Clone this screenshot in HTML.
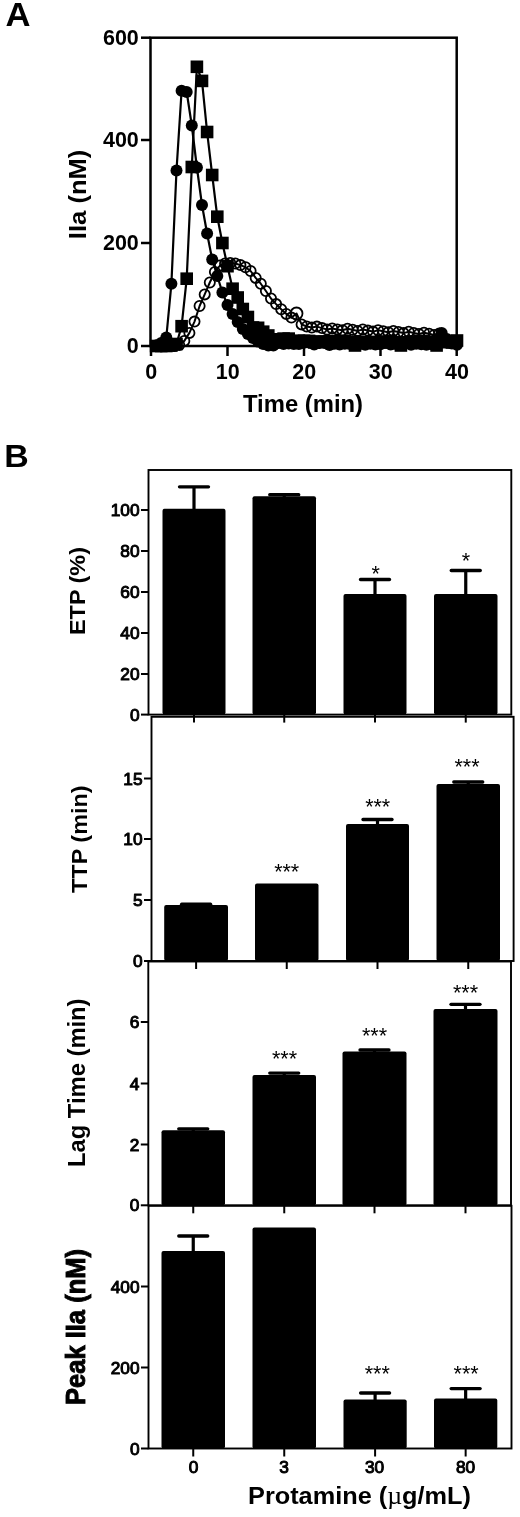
<!DOCTYPE html>
<html lang="en"><head><meta charset="utf-8"><title>Figure</title>
<style>
html,body{margin:0;padding:0;background:#fff;}
svg{display:block;}
text{font-family:"Liberation Sans",Arial,Helvetica,sans-serif;fill:#000;}
</style></head>
<body>
<svg width="520" height="1517" viewBox="0 0 520 1517">
<rect x="0" y="0" width="520" height="1517" fill="#fff"/>
<text x="5.5" y="26" font-size="33" text-anchor="start" font-weight="bold" textLength="25" lengthAdjust="spacingAndGlyphs" >A</text>
<rect x="150.5" y="37.7" width="306.2" height="308.3" fill="none" stroke="#000" stroke-width="2.5"/>
<line x1="141" y1="37.7" x2="150.5" y2="37.7" stroke="#000" stroke-width="2.5" stroke-linecap="butt"/>
<text x="138.8" y="44.900000000000006" font-size="21.5" text-anchor="end" font-weight="bold" >600</text>
<line x1="141" y1="140" x2="150.5" y2="140" stroke="#000" stroke-width="2.5" stroke-linecap="butt"/>
<text x="138.8" y="147.2" font-size="21.5" text-anchor="end" font-weight="bold" >400</text>
<line x1="141" y1="243" x2="150.5" y2="243" stroke="#000" stroke-width="2.5" stroke-linecap="butt"/>
<text x="138.8" y="250.2" font-size="21.5" text-anchor="end" font-weight="bold" >200</text>
<line x1="141" y1="346" x2="150.5" y2="346" stroke="#000" stroke-width="2.5" stroke-linecap="butt"/>
<text x="138.8" y="353.2" font-size="21.5" text-anchor="end" font-weight="bold" >0</text>
<line x1="151" y1="346" x2="151" y2="356" stroke="#000" stroke-width="2.5" stroke-linecap="butt"/>
<text x="151.3" y="379.3" font-size="21.5" text-anchor="middle" font-weight="bold" >0</text>
<line x1="227.5" y1="346" x2="227.5" y2="356" stroke="#000" stroke-width="2.5" stroke-linecap="butt"/>
<text x="227.8" y="379.3" font-size="21.5" text-anchor="middle" font-weight="bold" >10</text>
<line x1="304" y1="346" x2="304" y2="356" stroke="#000" stroke-width="2.5" stroke-linecap="butt"/>
<text x="304.3" y="379.3" font-size="21.5" text-anchor="middle" font-weight="bold" >20</text>
<line x1="380.5" y1="346" x2="380.5" y2="356" stroke="#000" stroke-width="2.5" stroke-linecap="butt"/>
<text x="380.8" y="379.3" font-size="21.5" text-anchor="middle" font-weight="bold" >30</text>
<line x1="456.7" y1="346" x2="456.7" y2="356" stroke="#000" stroke-width="2.5" stroke-linecap="butt"/>
<text x="457.0" y="379.3" font-size="21.5" text-anchor="middle" font-weight="bold" >40</text>
<text x="303" y="412" font-size="23.7" text-anchor="middle" font-weight="bold" textLength="120" lengthAdjust="spacingAndGlyphs" >Time (min)</text>
<text x="86.5" y="194.4" font-size="23.3" text-anchor="middle" font-weight="bold" textLength="89.5" lengthAdjust="spacingAndGlyphs" transform="rotate(-90 86.5 194.4)" >IIa (nM)</text>
<polyline fill="none" stroke="#000" stroke-width="2" stroke-linejoin="round" points="174.1,345.9 179.2,345.0 184.3,340.9 189.4,332.9 194.5,321.6 199.6,306.0 204.7,294.4 209.8,282.5 214.9,272.0 220.0,265.5 225.1,263.5 230.2,263.0 235.3,263.5 240.4,265.1 245.5,267.2 250.6,271.0 255.7,277.9 260.8,283.7 265.9,291.0 271.0,298.5 276.1,304.1 281.2,309.2 286.3,313.9 291.4,317.6 296.5,313.5 301.6,324.4 306.7,326.5 311.8,327.6 316.9,326.6 322.0,328.1 327.1,329.5 332.2,328.4 337.3,329.4 342.4,330.2 347.5,328.8 352.6,329.8 357.7,330.9 362.8,329.5 367.9,330.6 373.0,331.6 378.1,330.2 383.2,331.3 388.3,332.3 393.4,331.0 398.5,332.0 403.6,333.1 408.7,331.8 413.8,332.9 418.9,334.0 424.0,332.7 429.1,333.8 434.2,334.9 439.3,333.6"/>
<circle cx="174.1" cy="345.9" r="5.1" fill="none" stroke="#000" stroke-width="1.8"/>
<circle cx="179.2" cy="345.0" r="5.1" fill="none" stroke="#000" stroke-width="1.8"/>
<circle cx="184.3" cy="340.9" r="5.1" fill="none" stroke="#000" stroke-width="1.8"/>
<circle cx="189.4" cy="332.9" r="5.1" fill="none" stroke="#000" stroke-width="1.8"/>
<circle cx="194.5" cy="321.6" r="5.1" fill="none" stroke="#000" stroke-width="1.8"/>
<circle cx="199.6" cy="306.0" r="5.1" fill="none" stroke="#000" stroke-width="1.8"/>
<circle cx="204.7" cy="294.4" r="5.1" fill="none" stroke="#000" stroke-width="1.8"/>
<circle cx="209.8" cy="282.5" r="5.1" fill="none" stroke="#000" stroke-width="1.8"/>
<circle cx="214.9" cy="272.0" r="5.1" fill="none" stroke="#000" stroke-width="1.8"/>
<circle cx="220.0" cy="265.5" r="5.1" fill="none" stroke="#000" stroke-width="1.8"/>
<circle cx="225.1" cy="263.5" r="5.1" fill="none" stroke="#000" stroke-width="1.8"/>
<circle cx="230.2" cy="263.0" r="5.1" fill="none" stroke="#000" stroke-width="1.8"/>
<circle cx="235.3" cy="263.5" r="5.1" fill="none" stroke="#000" stroke-width="1.8"/>
<circle cx="240.4" cy="265.1" r="5.1" fill="none" stroke="#000" stroke-width="1.8"/>
<circle cx="245.5" cy="267.2" r="5.1" fill="none" stroke="#000" stroke-width="1.8"/>
<circle cx="250.6" cy="271.0" r="5.1" fill="none" stroke="#000" stroke-width="1.8"/>
<circle cx="255.7" cy="277.9" r="5.1" fill="none" stroke="#000" stroke-width="1.8"/>
<circle cx="260.8" cy="283.7" r="5.1" fill="none" stroke="#000" stroke-width="1.8"/>
<circle cx="265.9" cy="291.0" r="5.1" fill="none" stroke="#000" stroke-width="1.8"/>
<circle cx="271.0" cy="298.5" r="5.1" fill="none" stroke="#000" stroke-width="1.8"/>
<circle cx="276.1" cy="304.1" r="5.1" fill="none" stroke="#000" stroke-width="1.8"/>
<circle cx="281.2" cy="309.2" r="5.1" fill="none" stroke="#000" stroke-width="1.8"/>
<circle cx="286.3" cy="313.9" r="5.1" fill="none" stroke="#000" stroke-width="1.8"/>
<circle cx="291.4" cy="317.6" r="5.1" fill="none" stroke="#000" stroke-width="1.8"/>
<circle cx="296.5" cy="313.5" r="6.0" fill="none" stroke="#000" stroke-width="1.8"/>
<circle cx="301.6" cy="324.4" r="5.1" fill="none" stroke="#000" stroke-width="1.8"/>
<circle cx="306.7" cy="326.5" r="5.1" fill="none" stroke="#000" stroke-width="1.8"/>
<circle cx="311.8" cy="327.6" r="5.1" fill="none" stroke="#000" stroke-width="1.8"/>
<circle cx="316.9" cy="326.6" r="5.1" fill="none" stroke="#000" stroke-width="1.8"/>
<circle cx="322.0" cy="328.1" r="5.1" fill="none" stroke="#000" stroke-width="1.8"/>
<circle cx="327.1" cy="329.5" r="5.1" fill="none" stroke="#000" stroke-width="1.8"/>
<circle cx="332.2" cy="328.4" r="5.1" fill="none" stroke="#000" stroke-width="1.8"/>
<circle cx="337.3" cy="329.4" r="5.1" fill="none" stroke="#000" stroke-width="1.8"/>
<circle cx="342.4" cy="330.2" r="5.1" fill="none" stroke="#000" stroke-width="1.8"/>
<circle cx="347.5" cy="328.8" r="5.1" fill="none" stroke="#000" stroke-width="1.8"/>
<circle cx="352.6" cy="329.8" r="5.1" fill="none" stroke="#000" stroke-width="1.8"/>
<circle cx="357.7" cy="330.9" r="5.1" fill="none" stroke="#000" stroke-width="1.8"/>
<circle cx="362.8" cy="329.5" r="5.1" fill="none" stroke="#000" stroke-width="1.8"/>
<circle cx="367.9" cy="330.6" r="5.1" fill="none" stroke="#000" stroke-width="1.8"/>
<circle cx="373.0" cy="331.6" r="5.1" fill="none" stroke="#000" stroke-width="1.8"/>
<circle cx="378.1" cy="330.2" r="5.1" fill="none" stroke="#000" stroke-width="1.8"/>
<circle cx="383.2" cy="331.3" r="5.1" fill="none" stroke="#000" stroke-width="1.8"/>
<circle cx="388.3" cy="332.3" r="5.1" fill="none" stroke="#000" stroke-width="1.8"/>
<circle cx="393.4" cy="331.0" r="5.1" fill="none" stroke="#000" stroke-width="1.8"/>
<circle cx="398.5" cy="332.0" r="5.1" fill="none" stroke="#000" stroke-width="1.8"/>
<circle cx="403.6" cy="333.1" r="5.1" fill="none" stroke="#000" stroke-width="1.8"/>
<circle cx="408.7" cy="331.8" r="5.1" fill="none" stroke="#000" stroke-width="1.8"/>
<circle cx="413.8" cy="332.9" r="5.1" fill="none" stroke="#000" stroke-width="1.8"/>
<circle cx="418.9" cy="334.0" r="5.1" fill="none" stroke="#000" stroke-width="1.8"/>
<circle cx="424.0" cy="332.7" r="5.1" fill="none" stroke="#000" stroke-width="1.8"/>
<circle cx="429.1" cy="333.8" r="5.1" fill="none" stroke="#000" stroke-width="1.8"/>
<circle cx="434.2" cy="334.9" r="5.1" fill="none" stroke="#000" stroke-width="1.8"/>
<circle cx="439.3" cy="333.6" r="5.1" fill="none" stroke="#000" stroke-width="1.8"/>
<polyline fill="none" stroke="#000" stroke-width="2.2" stroke-linejoin="round" points="156.1,345.5 161.2,343.0 166.3,337.5 171.4,283.8 176.5,170.5 181.6,90.8 186.7,92.0 191.8,125.5 196.9,167.5 202.0,205.0 207.1,233.5 212.2,259.5 217.3,276.0 222.4,292.5 227.5,305.0 232.6,314.0 237.7,322.0 242.8,329.0 247.9,334.0 253.0,338.0 258.1,341.5 263.2,344.0 268.3,345.5 273.4,345.5 278.5,343.1 283.6,343.9 288.7,343.4 293.8,344.0 298.9,344.1 304.0,342.7 309.1,342.5 314.2,344.6 319.3,343.1 324.4,343.1 329.5,345.0 334.6,343.7 339.7,344.6 344.8,343.7 349.9,344.1 355.0,342.9 360.1,344.1 365.2,344.7 370.3,343.8 375.4,344.4 380.5,344.2 385.6,342.7 390.7,344.4 395.8,344.0 400.9,343.3 406.0,342.6 411.1,344.7 416.2,343.7 421.3,344.3 426.4,344.7 431.5,344.3 436.6,339.0 441.7,333.0 446.8,339.0 451.9,343.6 457.0,344.8"/>
<circle cx="156.1" cy="345.5" r="6" fill="#000"/>
<circle cx="161.2" cy="343.0" r="6" fill="#000"/>
<circle cx="166.3" cy="337.5" r="6" fill="#000"/>
<circle cx="171.4" cy="283.8" r="6" fill="#000"/>
<circle cx="176.5" cy="170.5" r="6" fill="#000"/>
<circle cx="181.6" cy="90.8" r="6" fill="#000"/>
<circle cx="186.7" cy="92.0" r="6" fill="#000"/>
<circle cx="191.8" cy="125.5" r="6" fill="#000"/>
<circle cx="196.9" cy="167.5" r="6" fill="#000"/>
<circle cx="202.0" cy="205.0" r="6" fill="#000"/>
<circle cx="207.1" cy="233.5" r="6" fill="#000"/>
<circle cx="212.2" cy="259.5" r="6" fill="#000"/>
<circle cx="217.3" cy="276.0" r="6" fill="#000"/>
<circle cx="222.4" cy="292.5" r="6" fill="#000"/>
<circle cx="227.5" cy="305.0" r="6" fill="#000"/>
<circle cx="232.6" cy="314.0" r="6" fill="#000"/>
<circle cx="237.7" cy="322.0" r="6" fill="#000"/>
<circle cx="242.8" cy="329.0" r="6" fill="#000"/>
<circle cx="247.9" cy="334.0" r="6" fill="#000"/>
<circle cx="253.0" cy="338.0" r="6" fill="#000"/>
<circle cx="258.1" cy="341.5" r="6" fill="#000"/>
<circle cx="263.2" cy="344.0" r="6" fill="#000"/>
<circle cx="268.3" cy="345.5" r="6" fill="#000"/>
<circle cx="273.4" cy="345.5" r="6" fill="#000"/>
<circle cx="278.5" cy="343.1" r="6" fill="#000"/>
<circle cx="283.6" cy="343.9" r="6" fill="#000"/>
<circle cx="288.7" cy="343.4" r="6" fill="#000"/>
<circle cx="293.8" cy="344.0" r="6" fill="#000"/>
<circle cx="298.9" cy="344.1" r="6" fill="#000"/>
<circle cx="304.0" cy="342.7" r="6" fill="#000"/>
<circle cx="309.1" cy="342.5" r="6" fill="#000"/>
<circle cx="314.2" cy="344.6" r="6" fill="#000"/>
<circle cx="319.3" cy="343.1" r="6" fill="#000"/>
<circle cx="324.4" cy="343.1" r="6" fill="#000"/>
<circle cx="329.5" cy="345.0" r="6" fill="#000"/>
<circle cx="334.6" cy="343.7" r="6" fill="#000"/>
<circle cx="339.7" cy="344.6" r="6" fill="#000"/>
<circle cx="344.8" cy="343.7" r="6" fill="#000"/>
<circle cx="349.9" cy="344.1" r="6" fill="#000"/>
<circle cx="355.0" cy="342.9" r="6" fill="#000"/>
<circle cx="360.1" cy="344.1" r="6" fill="#000"/>
<circle cx="365.2" cy="344.7" r="6" fill="#000"/>
<circle cx="370.3" cy="343.8" r="6" fill="#000"/>
<circle cx="375.4" cy="344.4" r="6" fill="#000"/>
<circle cx="380.5" cy="344.2" r="6" fill="#000"/>
<circle cx="385.6" cy="342.7" r="6" fill="#000"/>
<circle cx="390.7" cy="344.4" r="6" fill="#000"/>
<circle cx="395.8" cy="344.0" r="6" fill="#000"/>
<circle cx="400.9" cy="343.3" r="6" fill="#000"/>
<circle cx="406.0" cy="342.6" r="6" fill="#000"/>
<circle cx="411.1" cy="344.7" r="6" fill="#000"/>
<circle cx="416.2" cy="343.7" r="6" fill="#000"/>
<circle cx="421.3" cy="344.3" r="6" fill="#000"/>
<circle cx="426.4" cy="344.7" r="6" fill="#000"/>
<circle cx="431.5" cy="344.3" r="6" fill="#000"/>
<circle cx="436.6" cy="339.0" r="6" fill="#000"/>
<circle cx="441.7" cy="333.0" r="6" fill="#000"/>
<circle cx="446.8" cy="339.0" r="6" fill="#000"/>
<circle cx="451.9" cy="343.6" r="6" fill="#000"/>
<circle cx="457.0" cy="344.8" r="6" fill="#000"/>
<polyline fill="none" stroke="#000" stroke-width="2.2" stroke-linejoin="round" points="156.1,346.0 161.2,346.0 166.3,346.0 171.4,345.5 176.5,344.0 181.6,326.2 186.7,278.8 191.8,167.0 196.9,66.8 202.0,80.9 207.1,132.0 212.2,175.0 217.3,216.8 222.4,243.0 227.5,266.2 232.6,288.8 237.7,297.5 242.8,309.0 247.9,317.0 253.0,327.5 258.1,327.8 263.2,331.7 268.3,335.5 273.4,339.3 278.5,339.5 283.6,338.6 288.7,338.6 293.8,342.3 298.9,340.7 304.0,340.8 309.1,340.9 314.2,342.4 319.3,341.4 324.4,341.8 329.5,341.1 334.6,341.5 339.7,341.3 344.8,341.2 349.9,341.7 355.0,345.5 360.1,342.3 365.2,341.9 370.3,342.4 375.4,342.2 380.5,342.5 385.6,341.8 390.7,340.8 395.8,342.2 400.9,345.5 406.0,342.3 411.1,341.6 416.2,341.9 421.3,340.9 426.4,342.2 431.5,341.6 436.6,345.5 441.7,340.6 446.8,342.2 451.9,342.5 457.0,340.5"/>
<rect x="149.8" y="339.7" width="12.6" height="12.6" fill="#000"/>
<rect x="154.9" y="339.7" width="12.6" height="12.6" fill="#000"/>
<rect x="160.0" y="339.7" width="12.6" height="12.6" fill="#000"/>
<rect x="165.1" y="339.2" width="12.6" height="12.6" fill="#000"/>
<rect x="170.2" y="337.7" width="12.6" height="12.6" fill="#000"/>
<rect x="175.3" y="319.9" width="12.6" height="12.6" fill="#000"/>
<rect x="180.4" y="272.4" width="12.6" height="12.6" fill="#000"/>
<rect x="185.5" y="160.7" width="12.6" height="12.6" fill="#000"/>
<rect x="190.6" y="60.5" width="12.6" height="12.6" fill="#000"/>
<rect x="195.7" y="74.6" width="12.6" height="12.6" fill="#000"/>
<rect x="200.8" y="125.7" width="12.6" height="12.6" fill="#000"/>
<rect x="205.9" y="168.7" width="12.6" height="12.6" fill="#000"/>
<rect x="211.0" y="210.4" width="12.6" height="12.6" fill="#000"/>
<rect x="216.1" y="236.7" width="12.6" height="12.6" fill="#000"/>
<rect x="221.2" y="259.9" width="12.6" height="12.6" fill="#000"/>
<rect x="226.3" y="282.4" width="12.6" height="12.6" fill="#000"/>
<rect x="231.4" y="291.2" width="12.6" height="12.6" fill="#000"/>
<rect x="236.5" y="302.7" width="12.6" height="12.6" fill="#000"/>
<rect x="241.6" y="310.7" width="12.6" height="12.6" fill="#000"/>
<rect x="246.7" y="321.2" width="12.6" height="12.6" fill="#000"/>
<rect x="251.8" y="321.5" width="12.6" height="12.6" fill="#000"/>
<rect x="256.9" y="325.4" width="12.6" height="12.6" fill="#000"/>
<rect x="262.0" y="329.2" width="12.6" height="12.6" fill="#000"/>
<rect x="267.1" y="333.0" width="12.6" height="12.6" fill="#000"/>
<rect x="272.2" y="333.2" width="12.6" height="12.6" fill="#000"/>
<rect x="277.3" y="332.3" width="12.6" height="12.6" fill="#000"/>
<rect x="282.4" y="332.3" width="12.6" height="12.6" fill="#000"/>
<rect x="287.5" y="336.0" width="12.6" height="12.6" fill="#000"/>
<rect x="292.6" y="334.4" width="12.6" height="12.6" fill="#000"/>
<rect x="297.7" y="334.5" width="12.6" height="12.6" fill="#000"/>
<rect x="302.8" y="334.6" width="12.6" height="12.6" fill="#000"/>
<rect x="307.9" y="336.1" width="12.6" height="12.6" fill="#000"/>
<rect x="313.0" y="335.1" width="12.6" height="12.6" fill="#000"/>
<rect x="318.1" y="335.5" width="12.6" height="12.6" fill="#000"/>
<rect x="323.2" y="334.8" width="12.6" height="12.6" fill="#000"/>
<rect x="328.3" y="335.2" width="12.6" height="12.6" fill="#000"/>
<rect x="333.4" y="335.0" width="12.6" height="12.6" fill="#000"/>
<rect x="338.5" y="334.9" width="12.6" height="12.6" fill="#000"/>
<rect x="343.6" y="335.4" width="12.6" height="12.6" fill="#000"/>
<rect x="348.7" y="339.2" width="12.6" height="12.6" fill="#000"/>
<rect x="353.8" y="336.0" width="12.6" height="12.6" fill="#000"/>
<rect x="358.9" y="335.6" width="12.6" height="12.6" fill="#000"/>
<rect x="364.0" y="336.1" width="12.6" height="12.6" fill="#000"/>
<rect x="369.1" y="335.9" width="12.6" height="12.6" fill="#000"/>
<rect x="374.2" y="336.2" width="12.6" height="12.6" fill="#000"/>
<rect x="379.3" y="335.5" width="12.6" height="12.6" fill="#000"/>
<rect x="384.4" y="334.5" width="12.6" height="12.6" fill="#000"/>
<rect x="389.5" y="335.9" width="12.6" height="12.6" fill="#000"/>
<rect x="394.6" y="339.2" width="12.6" height="12.6" fill="#000"/>
<rect x="399.7" y="336.0" width="12.6" height="12.6" fill="#000"/>
<rect x="404.8" y="335.3" width="12.6" height="12.6" fill="#000"/>
<rect x="409.9" y="335.6" width="12.6" height="12.6" fill="#000"/>
<rect x="415.0" y="334.6" width="12.6" height="12.6" fill="#000"/>
<rect x="420.1" y="335.9" width="12.6" height="12.6" fill="#000"/>
<rect x="425.2" y="335.3" width="12.6" height="12.6" fill="#000"/>
<rect x="430.3" y="339.2" width="12.6" height="12.6" fill="#000"/>
<rect x="435.4" y="334.3" width="12.6" height="12.6" fill="#000"/>
<rect x="440.5" y="335.9" width="12.6" height="12.6" fill="#000"/>
<rect x="445.6" y="336.2" width="12.6" height="12.6" fill="#000"/>
<rect x="450.7" y="334.2" width="12.6" height="12.6" fill="#000"/>
<text x="4.3" y="467" font-size="32" text-anchor="start" font-weight="bold" textLength="24.5" lengthAdjust="spacingAndGlyphs" >B</text>
<rect x="148.5" y="470" width="362.8" height="244.60000000000002" fill="none" stroke="#000" stroke-width="1.9"/>
<line x1="141.0" y1="510" x2="148.5" y2="510" stroke="#000" stroke-width="2" stroke-linecap="butt"/>
<text x="139.5" y="516" font-size="17.3" text-anchor="end"  stroke="#000" stroke-width="1.0" stroke-linejoin="round">100</text>
<line x1="141.0" y1="551" x2="148.5" y2="551" stroke="#000" stroke-width="2" stroke-linecap="butt"/>
<text x="139.5" y="557" font-size="17.3" text-anchor="end"  stroke="#000" stroke-width="1.0" stroke-linejoin="round">80</text>
<line x1="141.0" y1="592" x2="148.5" y2="592" stroke="#000" stroke-width="2" stroke-linecap="butt"/>
<text x="139.5" y="598" font-size="17.3" text-anchor="end"  stroke="#000" stroke-width="1.0" stroke-linejoin="round">60</text>
<line x1="141.0" y1="633" x2="148.5" y2="633" stroke="#000" stroke-width="2" stroke-linecap="butt"/>
<text x="139.5" y="639" font-size="17.3" text-anchor="end"  stroke="#000" stroke-width="1.0" stroke-linejoin="round">40</text>
<line x1="141.0" y1="674" x2="148.5" y2="674" stroke="#000" stroke-width="2" stroke-linecap="butt"/>
<text x="139.5" y="680" font-size="17.3" text-anchor="end"  stroke="#000" stroke-width="1.0" stroke-linejoin="round">20</text>
<line x1="141.0" y1="714.6" x2="148.5" y2="714.6" stroke="#000" stroke-width="2" stroke-linecap="butt"/>
<text x="139.5" y="720.6" font-size="17.3" text-anchor="end"  stroke="#000" stroke-width="1.0" stroke-linejoin="round">0</text>
<text x="85.2" y="591" font-size="22.5" text-anchor="middle" font-weight="bold" textLength="88" lengthAdjust="spacingAndGlyphs" transform="rotate(-90 85.2 591)" >ETP (%)</text>
<rect x="162.5" y="508.8" width="63.0" height="205.8" fill="#000" rx="2"/>
<line x1="194.0" y1="486.8" x2="194.0" y2="509.8" stroke="#000" stroke-width="3.2" stroke-linecap="butt"/>
<line x1="179.5" y1="486.8" x2="208.5" y2="486.8" stroke="#000" stroke-width="3.3" stroke-linecap="round"/>
<line x1="194.0" y1="714.6" x2="194.0" y2="722.6" stroke="#000" stroke-width="2" stroke-linecap="butt"/>
<rect x="252.5" y="496.2" width="63.5" height="218.40000000000003" fill="#000" rx="2"/>
<line x1="284.25" y1="494.7" x2="284.25" y2="497.2" stroke="#000" stroke-width="3.2" stroke-linecap="butt"/>
<line x1="269.75" y1="494.7" x2="298.75" y2="494.7" stroke="#000" stroke-width="3.3" stroke-linecap="round"/>
<line x1="284.25" y1="714.6" x2="284.25" y2="722.6" stroke="#000" stroke-width="2" stroke-linecap="butt"/>
<rect x="343.5" y="594" width="63.0" height="120.60000000000002" fill="#000" rx="2"/>
<line x1="375.0" y1="579.5" x2="375.0" y2="595" stroke="#000" stroke-width="3.2" stroke-linecap="butt"/>
<line x1="360.5" y1="579.5" x2="389.5" y2="579.5" stroke="#000" stroke-width="3.3" stroke-linecap="round"/>
<text x="375.8" y="581.4000000000001" font-size="21.5" text-anchor="middle"  >*</text>
<line x1="375.0" y1="714.6" x2="375.0" y2="722.6" stroke="#000" stroke-width="2" stroke-linecap="butt"/>
<rect x="434" y="594" width="63.5" height="120.60000000000002" fill="#000" rx="2"/>
<line x1="465.75" y1="570.5" x2="465.75" y2="595" stroke="#000" stroke-width="3.2" stroke-linecap="butt"/>
<line x1="451.25" y1="570.5" x2="480.25" y2="570.5" stroke="#000" stroke-width="3.3" stroke-linecap="round"/>
<text x="466" y="568.3000000000001" font-size="21.5" text-anchor="middle"  >*</text>
<line x1="465.75" y1="714.6" x2="465.75" y2="722.6" stroke="#000" stroke-width="2" stroke-linecap="butt"/>
<rect x="151.5" y="716.8" width="362.1" height="244.20000000000005" fill="none" stroke="#000" stroke-width="1.9"/>
<line x1="144.0" y1="778.5" x2="151.5" y2="778.5" stroke="#000" stroke-width="2" stroke-linecap="butt"/>
<text x="142.5" y="784.5" font-size="17.3" text-anchor="end"  stroke="#000" stroke-width="1.0" stroke-linejoin="round">15</text>
<line x1="144.0" y1="839" x2="151.5" y2="839" stroke="#000" stroke-width="2" stroke-linecap="butt"/>
<text x="142.5" y="845" font-size="17.3" text-anchor="end"  stroke="#000" stroke-width="1.0" stroke-linejoin="round">10</text>
<line x1="144.0" y1="900" x2="151.5" y2="900" stroke="#000" stroke-width="2" stroke-linecap="butt"/>
<text x="142.5" y="906" font-size="17.3" text-anchor="end"  stroke="#000" stroke-width="1.0" stroke-linejoin="round">5</text>
<line x1="144.0" y1="961" x2="151.5" y2="961" stroke="#000" stroke-width="2" stroke-linecap="butt"/>
<text x="142.5" y="967" font-size="17.3" text-anchor="end"  stroke="#000" stroke-width="1.0" stroke-linejoin="round">0</text>
<text x="87.5" y="839.2" font-size="22.5" text-anchor="middle" font-weight="bold" textLength="107.5" lengthAdjust="spacingAndGlyphs" transform="rotate(-90 87.5 839.2)" >TTP (min)</text>
<rect x="164.2" y="905" width="63.80000000000001" height="56" fill="#000" rx="2"/>
<line x1="196.1" y1="904.2" x2="196.1" y2="906" stroke="#000" stroke-width="3.2" stroke-linecap="butt"/>
<line x1="181.6" y1="904.2" x2="210.6" y2="904.2" stroke="#000" stroke-width="3.3" stroke-linecap="round"/>
<line x1="196.1" y1="961" x2="196.1" y2="969" stroke="#000" stroke-width="2" stroke-linecap="butt"/>
<rect x="255" y="883.5" width="63.5" height="77.5" fill="#000" rx="2"/>
<text x="286.7" y="878.9000000000001" font-size="21.5" text-anchor="middle"  >***</text>
<line x1="286.75" y1="961" x2="286.75" y2="969" stroke="#000" stroke-width="2" stroke-linecap="butt"/>
<rect x="346" y="824" width="63" height="137" fill="#000" rx="2"/>
<line x1="377.5" y1="819.5" x2="377.5" y2="825" stroke="#000" stroke-width="3.2" stroke-linecap="butt"/>
<line x1="363.0" y1="819.5" x2="392.0" y2="819.5" stroke="#000" stroke-width="3.3" stroke-linecap="round"/>
<text x="377.7" y="813.9000000000001" font-size="21.5" text-anchor="middle"  >***</text>
<line x1="377.5" y1="961" x2="377.5" y2="969" stroke="#000" stroke-width="2" stroke-linecap="butt"/>
<rect x="436.5" y="784" width="63.5" height="177" fill="#000" rx="2"/>
<line x1="468.25" y1="782" x2="468.25" y2="785" stroke="#000" stroke-width="3.2" stroke-linecap="butt"/>
<line x1="453.75" y1="782" x2="482.75" y2="782" stroke="#000" stroke-width="3.3" stroke-linecap="round"/>
<text x="467" y="774.4000000000001" font-size="21.5" text-anchor="middle"  >***</text>
<line x1="468.25" y1="961" x2="468.25" y2="969" stroke="#000" stroke-width="2" stroke-linecap="butt"/>
<rect x="148.3" y="961.5" width="362.7" height="243.79999999999995" fill="none" stroke="#000" stroke-width="1.9"/>
<line x1="140.8" y1="1022" x2="148.3" y2="1022" stroke="#000" stroke-width="2" stroke-linecap="butt"/>
<text x="139.3" y="1028" font-size="17.3" text-anchor="end"  stroke="#000" stroke-width="1.0" stroke-linejoin="round">6</text>
<line x1="140.8" y1="1083.5" x2="148.3" y2="1083.5" stroke="#000" stroke-width="2" stroke-linecap="butt"/>
<text x="139.3" y="1089.5" font-size="17.3" text-anchor="end"  stroke="#000" stroke-width="1.0" stroke-linejoin="round">4</text>
<line x1="140.8" y1="1144.5" x2="148.3" y2="1144.5" stroke="#000" stroke-width="2" stroke-linecap="butt"/>
<text x="139.3" y="1150.5" font-size="17.3" text-anchor="end"  stroke="#000" stroke-width="1.0" stroke-linejoin="round">2</text>
<line x1="140.8" y1="1205.3" x2="148.3" y2="1205.3" stroke="#000" stroke-width="2" stroke-linecap="butt"/>
<text x="139.3" y="1211.3" font-size="17.3" text-anchor="end"  stroke="#000" stroke-width="1.0" stroke-linejoin="round">0</text>
<text x="85.4" y="1082.7" font-size="23.2" text-anchor="middle" font-weight="bold" textLength="168.5" lengthAdjust="spacingAndGlyphs" transform="rotate(-90 85.4 1082.7)" >Lag Time (min)</text>
<rect x="161.5" y="1130.2" width="63.5" height="75.09999999999991" fill="#000" rx="2"/>
<line x1="193.25" y1="1128.8" x2="193.25" y2="1131.2" stroke="#000" stroke-width="3.2" stroke-linecap="butt"/>
<line x1="178.75" y1="1128.8" x2="207.75" y2="1128.8" stroke="#000" stroke-width="3.3" stroke-linecap="round"/>
<line x1="193.25" y1="1205.3" x2="193.25" y2="1213.3" stroke="#000" stroke-width="2" stroke-linecap="butt"/>
<rect x="252.5" y="1075" width="63.5" height="130.29999999999995" fill="#000" rx="2"/>
<line x1="284.25" y1="1073.1" x2="284.25" y2="1076" stroke="#000" stroke-width="3.2" stroke-linecap="butt"/>
<line x1="269.75" y1="1073.1" x2="298.75" y2="1073.1" stroke="#000" stroke-width="3.3" stroke-linecap="round"/>
<text x="284.5" y="1065.9" font-size="21.5" text-anchor="middle"  >***</text>
<line x1="284.25" y1="1205.3" x2="284.25" y2="1213.3" stroke="#000" stroke-width="2" stroke-linecap="butt"/>
<rect x="342.5" y="1051.5" width="64.0" height="153.79999999999995" fill="#000" rx="2"/>
<line x1="374.5" y1="1050" x2="374.5" y2="1052.5" stroke="#000" stroke-width="3.2" stroke-linecap="butt"/>
<line x1="360.0" y1="1050" x2="389.0" y2="1050" stroke="#000" stroke-width="3.3" stroke-linecap="round"/>
<text x="374.5" y="1043.4" font-size="21.5" text-anchor="middle"  >***</text>
<line x1="374.5" y1="1205.3" x2="374.5" y2="1213.3" stroke="#000" stroke-width="2" stroke-linecap="butt"/>
<rect x="433.5" y="1009" width="64.0" height="196.29999999999995" fill="#000" rx="2"/>
<line x1="465.5" y1="1004.3" x2="465.5" y2="1010" stroke="#000" stroke-width="3.2" stroke-linecap="butt"/>
<line x1="451.0" y1="1004.3" x2="480.0" y2="1004.3" stroke="#000" stroke-width="3.3" stroke-linecap="round"/>
<text x="465.5" y="1000.2" font-size="21.5" text-anchor="middle"  >***</text>
<line x1="465.5" y1="1205.3" x2="465.5" y2="1213.3" stroke="#000" stroke-width="2" stroke-linecap="butt"/>
<rect x="148.5" y="1205.8" width="363.0" height="242.70000000000005" fill="none" stroke="#000" stroke-width="1.9"/>
<line x1="141.0" y1="1286.5" x2="148.5" y2="1286.5" stroke="#000" stroke-width="2" stroke-linecap="butt"/>
<text x="139.5" y="1292.5" font-size="17.3" text-anchor="end"  stroke="#000" stroke-width="1.0" stroke-linejoin="round">400</text>
<line x1="141.0" y1="1367.5" x2="148.5" y2="1367.5" stroke="#000" stroke-width="2" stroke-linecap="butt"/>
<text x="139.5" y="1373.5" font-size="17.3" text-anchor="end"  stroke="#000" stroke-width="1.0" stroke-linejoin="round">200</text>
<line x1="141.0" y1="1448.5" x2="148.5" y2="1448.5" stroke="#000" stroke-width="2" stroke-linecap="butt"/>
<text x="139.5" y="1454.5" font-size="17.3" text-anchor="end"  stroke="#000" stroke-width="1.0" stroke-linejoin="round">0</text>
<text x="84.6" y="1327" font-size="27.5" text-anchor="middle" font-weight="bold" textLength="156" lengthAdjust="spacingAndGlyphs" transform="rotate(-90 84.6 1327)" stroke="#000" stroke-width="0.9">Peak IIa (nM)</text>
<rect x="161.5" y="1251" width="63.5" height="197.5" fill="#000" rx="2"/>
<line x1="193.25" y1="1236" x2="193.25" y2="1252" stroke="#000" stroke-width="3.2" stroke-linecap="butt"/>
<line x1="178.75" y1="1236" x2="207.75" y2="1236" stroke="#000" stroke-width="3.3" stroke-linecap="round"/>
<line x1="193.25" y1="1448.5" x2="193.25" y2="1456.5" stroke="#000" stroke-width="2" stroke-linecap="butt"/>
<rect x="252.5" y="1227.5" width="63.5" height="221.0" fill="#000" rx="2"/>
<line x1="284.25" y1="1448.5" x2="284.25" y2="1456.5" stroke="#000" stroke-width="2" stroke-linecap="butt"/>
<rect x="343.5" y="1399.6" width="63.19999999999999" height="48.90000000000009" fill="#000" rx="2"/>
<line x1="375.1" y1="1393" x2="375.1" y2="1400.6" stroke="#000" stroke-width="3.2" stroke-linecap="butt"/>
<line x1="360.6" y1="1393" x2="389.6" y2="1393" stroke="#000" stroke-width="3.3" stroke-linecap="round"/>
<text x="377.3" y="1380.9" font-size="21.5" text-anchor="middle"  >***</text>
<line x1="375.1" y1="1448.5" x2="375.1" y2="1456.5" stroke="#000" stroke-width="2" stroke-linecap="butt"/>
<rect x="434" y="1398.5" width="63.30000000000001" height="50.0" fill="#000" rx="2"/>
<line x1="465.65" y1="1388.6" x2="465.65" y2="1399.5" stroke="#000" stroke-width="3.2" stroke-linecap="butt"/>
<line x1="451.15" y1="1388.6" x2="480.15" y2="1388.6" stroke="#000" stroke-width="3.3" stroke-linecap="round"/>
<text x="466.1" y="1380.9" font-size="21.5" text-anchor="middle"  >***</text>
<line x1="465.65" y1="1448.5" x2="465.65" y2="1456.5" stroke="#000" stroke-width="2" stroke-linecap="butt"/>
<text x="193.5" y="1472.8" font-size="17.3" text-anchor="middle"  stroke="#000" stroke-width="1.0" stroke-linejoin="round">0</text>
<text x="284" y="1472.8" font-size="17.3" text-anchor="middle"  stroke="#000" stroke-width="1.0" stroke-linejoin="round">3</text>
<text x="374.5" y="1472.8" font-size="17.3" text-anchor="middle"  stroke="#000" stroke-width="1.0" stroke-linejoin="round">30</text>
<text x="465.5" y="1472.8" font-size="17.3" text-anchor="middle"  stroke="#000" stroke-width="1.0" stroke-linejoin="round">80</text>
<text x="359.5" y="1504" font-size="24.5" text-anchor="middle" font-weight="bold" textLength="223" lengthAdjust="spacingAndGlyphs" >Protamine (<tspan font-family="Liberation Serif, serif" font-weight="normal" font-size="25">µ</tspan>g/mL)</text>
</svg>
</body></html>
